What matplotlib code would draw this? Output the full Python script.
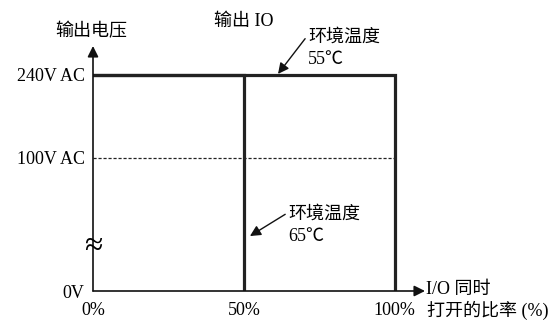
import matplotlib
matplotlib.use('Agg')
import matplotlib.pyplot as plt

plt.rcParams['font.family'] = ['Liberation Serif', 'Noto Sans CJK SC']
plt.rcParams['axes.unicode_minus'] = False

# data
x_ticks = [0, 50, 100]
x_labels = ['0%', '50%', '100%']
y_ticks = [0, 148, 240]          # 100V sits above a broken scale
y_labels = ['0V', '100V AC', '240V AC']

curve_55_x = [0, 100, 100]
curve_55_y = [240, 240, 0]
curve_65_x = [0, 50, 50]
curve_65_y = [240, 240, 0]
ref_100v_y = 148

fs = 13

fig = plt.figure(figsize=(5.53, 3.23), dpi=100)
ax = fig.add_axes([93 / 553, 32 / 323, 332 / 553, 245 / 323])
ax.set_xlim(0, 110)
ax.set_ylim(0, 272)

for s in ['top', 'right', 'left', 'bottom']:
    ax.spines[s].set_visible(False)

# axes with arrow heads
ax.annotate('', xy=(0, 272), xytext=(0, 0),
            arrowprops=dict(arrowstyle='-|>', color='#111111', lw=1.2,
                            shrinkA=0, shrinkB=0, mutation_scale=16))
ax.annotate('', xy=(110, 0), xytext=(0, 0),
            arrowprops=dict(arrowstyle='-|>', color='#111111', lw=1.2,
                            shrinkA=0, shrinkB=0, mutation_scale=16))

# curves
ax.plot(curve_55_x, curve_55_y, color='#222222', lw=2.3, solid_joinstyle='miter')
ax.plot(curve_65_x, curve_65_y, color='#222222', lw=2.3, solid_joinstyle='miter')
ax.plot([0, 100], [ref_100v_y, ref_100v_y], color='#222222', lw=0.9,
        linestyle=(0, (2.5, 1.5)))

# ticks
ax.set_xticks(x_ticks)
ax.set_xticklabels(x_labels, fontsize=fs)
ax.set_yticks(y_ticks)
ax.set_yticklabels(y_labels, fontsize=fs)
ax.tick_params(length=0)
ax.tick_params(axis='x', pad=8)
ax.tick_params(axis='y', pad=6)

# axis titles
ax.text(-0.5, 288, '输出电压', ha='center', va='center', fontsize=fs, clip_on=False)
ax.text(50, 299, '输出 IO', ha='center', va='center', fontsize=fs, clip_on=False)
ax.text(110.2, 2, 'I/O 同时', ha='left', va='center', fontsize=fs, clip_on=False)
ax.text(110.5, -21, '打开的比率 (%)', ha='left', va='center', fontsize=fs, clip_on=False)

# break symbol
ax.text(0, 49, '≈', ha='center', va='center', fontsize=24, clip_on=False)

# annotations
ax.annotate('环境温度\n55℃', xy=(61.3, 241), xytext=(71.2, 269),
            fontsize=fs, ha='left', va='center', linespacing=1.4,
            arrowprops=dict(arrowstyle='-|>', color='#111111', lw=1.0,
                            shrinkA=0, shrinkB=0, mutation_scale=16,
                            relpos=(-0.02, 0.8)))
ax.annotate('环境温度\n65℃', xy=(52, 61), xytext=(64.6, 73),
            fontsize=fs, ha='left', va='center', linespacing=1.4,
            arrowprops=dict(arrowstyle='-|>', color='#111111', lw=1.0,
                            shrinkA=0, shrinkB=0, mutation_scale=16,
                            relpos=(-0.02, 0.8)))

fig.savefig('out.png', dpi=100)
